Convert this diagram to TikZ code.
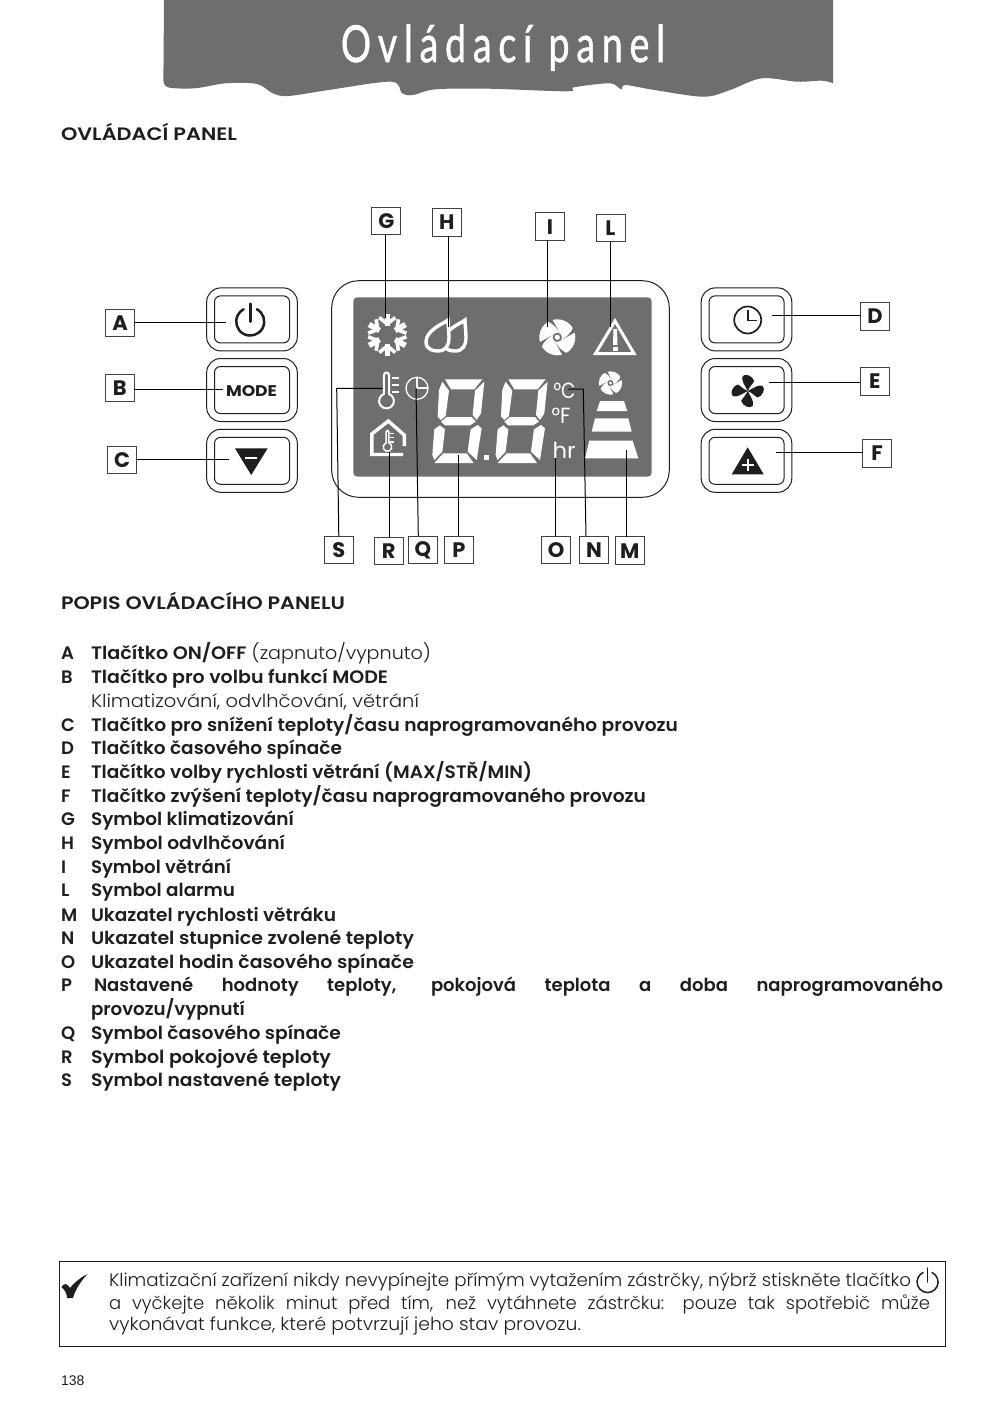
\documentclass[tikz,border=0pt]{standalone}
\usepackage{fontspec}
\setmainfont{Poppins}[UprightFont=* Light,BoldFont=* SemiBold]
\newfontfamily\titlefont{Lato}[LetterSpace=18,FakeBold=1.2]
\newfontfamily\numfont{Liberation Sans}
\newfontfamily\iconfont{Poppins}[UprightFont=* Bold]
\newfontfamily\lcdfont{Poppins}
\definecolor{panelgray}{HTML}{6E6E6E}
\definecolor{ink}{HTML}{1E1E1E}
\newcommand{\fitw}[2]{\resizebox{#1pt}{\height}{#2}}
\tikzset{
  every node/.style={inner sep=0pt,outer sep=0pt},
  lab/.style={draw=ink!85,line width=1pt,fill=white,minimum width=29pt,minimum height=27.5pt,font=\fontsize{21}{21}\iconfont,text=ink},
  conn/.style={draw=black,line width=1pt},
  btnout/.style={draw=ink,line width=1pt,rounded corners=14pt,minimum width=90.6pt,minimum height=63pt},
  btnin/.style={draw=ink,line width=1pt,rounded corners=6pt,minimum width=75pt,minimum height=47pt},
  row/.style={anchor=base west,yshift=1pt,font=\fontsize{18}{18}\selectfont,text=ink},
  lcdtxt/.style={text=white,anchor=base west,font=\fontsize{22}{22}\lcdfont},
  lcdfan/.pic={
    \fill[white] (0,0) circle (18);
    \foreach \r in {0,90,180,270}{
      \fill[panelgray,rotate=\r] (3,-3) .. controls (0,-9) and (-4,-14) .. (-11,-16.5) -- (-6,-19.5) .. controls (-3,-14) and (0,-9) .. (3,-3) -- cycle;
    }
    \fill[panelgray] (0,0) circle (4.6);
    \fill[white] (0,0) circle (2.6);
  },
  thermo/.pic={
    \draw[white,line width=2pt] (-2.5,-26) arc (180:360:2.5) -- (2.5,-7) arc (-70:250:7.4) -- cycle;
    \foreach \yy in {-23,-16,-9}{\draw[white,line width=2pt] (5,\yy) -- (12,\yy);}
  },
  segdigit/.pic={
    \fill[white] (60,28) -- (172,28) -- (148,58) -- (78,58) -- cycle;
    \fill[white] (52,35) -- (72,62) -- (62,138) -- (48,150) -- (38,140) -- (42,60) -- cycle;
    \fill[white] (178,35) -- (168,130) -- (155,150) -- (143,135) -- (150,62) -- cycle;
    \fill[white] (48,155) -- (65,141) -- (140,141) -- (152,155) -- (135,166) -- (60,166) -- cycle;
    \fill[white] (45,166) -- (60,178) -- (52,245) -- (28,270) -- (22,255) -- (28,178) -- cycle;
    \fill[white] (158,165) -- (170,175) -- (155,270) -- (128,245) -- (137,178) -- cycle;
    \fill[white] (28,279) -- (55,250) -- (125,250) -- (146,279) -- cycle;
  },
  powericon/.pic={
    \draw[ink,line width=2.5pt,line cap=round] (0,-18) -- (0,0);
    \draw[ink,line width=2.5pt,line cap=round] (6.5,-12.5) arc (-62:242:14);
  }
}
\begin{document}
\begin{tikzpicture}[x=1pt,y=-1pt]
\useasboundingbox (0,0) rectangle (1004,1417);
\fill[white] (0,0) rectangle (1004,1417);

% header
\fill[panelgray] (164,0) -- (163.4,80) -- plot[smooth,tension=.55] coordinates {(163.4,80) (167.9,87.3) (194.6,88.3) (225.9,83.3) (257,84) (272.8,93.3) (288.4,96) (328.6,90) (391,81.7) (402,93.3) (413,95) (435.7,89.3) (489,88.7) (567.4,91.3) (574,87.3) (609.8,83.3) (621,89.3) (625.4,85) (654.5,90) (703.6,96.7) (730,90) (761.6,78.3) (797,81.7) (822,80.7) (833,83.3)} -- (833,0) -- cycle;
\node[anchor=base west,text=white,font=\fontsize{51}{51}\titlefont] (title) at (341,62) {\fitw{324}{Ovládací panel}};

\node[row] (h1) at (61,141) {\fitw{176}{\bfseries OVLÁDACÍ PANEL}};
\node[row] (h2) at (61,610) {\fitw{284}{\bfseries POPIS OVLÁDACÍHO PANELU}};

% LCD panel
\node[draw=ink,line width=1pt,rounded corners=27pt,minimum width=337.6pt,minimum height=216.6pt] (panel) at (500.5,389) {};
\node[fill=panelgray,rounded corners=4pt,minimum width=298.4pt,minimum height=179.4pt] (lcd) at (502.5,387) {};

% buttons
\foreach \nm/\xx/\yy in {bA/252/319.4,bB/252/390,bC/252/460.8,bD/746.5/319.4,bE/746.5/390,bF/746.5/460.8}{
  \node[btnout] (\nm o) at (\xx,\yy) {};
  \node[btnin] (\nm) at (\xx,\yy) {};
}

% button icons
\pic at (250.3,321.7) {powericon};
\node[font=\fontsize{15}{15}\iconfont,text=ink] (modetxt) at (251.5,391.5) {\resizebox{51pt}{11pt}{MODE}};
\fill[ink] (235,448.3) -- (267.7,448.3) -- (251.2,475) -- cycle;
\draw[white,line width=1.6pt] (245,457.7) -- (256.7,457.7);
\draw[ink,line width=1.7pt] (747.7,320) circle (13.5);
\draw[ink,line width=1.7pt] (747.7,310) -- (747.7,320.5) -- (757,320.5);
\foreach \r in {0,90,180,270}{
  \fill[ink,shift={(747.7,391)},rotate=\r] (0,0) .. controls (-3,-6) and (-7,-11) .. (-5,-15) .. controls (-2,-18) and (5,-15) .. (6.5,-10) .. controls (6,-8) and (2,-5) .. (0,0) -- cycle;
}
\fill[ink] (747.7,447.3) -- (763.7,474.3) -- (731.7,474.3) -- cycle;
\draw[white,line width=1.8pt] (741.5,465) -- (754,465) (747.7,459) -- (747.7,471);

% LCD symbols: snowflake
\begin{scope}[shift={(387.3,335)}]
\foreach \r in {0,60,...,300}{
  \begin{scope}[rotate=\r]
  \draw[white,line width=5.5pt] (0,-9) -- (0,-21);
  \draw[white,line width=3.6pt] (0,-11) -- (-8,-17.5) (0,-11) -- (8,-17.5);
  \end{scope}
}
\end{scope}
% drops
\draw[white,line width=3.4pt,fill=panelgray,shift={(17,0)}] (448,320) .. controls (443,324) and (426,330) .. (426,342) .. controls (426,350) and (434,351) .. (438,351) .. controls (446,351) and (449,345) .. (449,338) .. controls (449,332) and (448,326) .. (448,320) -- cycle;
\draw[white,line width=3.4pt,fill=panelgray] (448,320) .. controls (443,324) and (426,330) .. (426,342) .. controls (426,350) and (434,351) .. (438,351) .. controls (446,351) and (449,345) .. (449,338) .. controls (449,332) and (448,326) .. (448,320) -- cycle;
% fan
\pic at (557.3,337.3) {lcdfan};
\pic[scale=.65] at (610.5,383) {lcdfan};
% alarm
\draw[white,line width=3pt,line join=miter] (615,321) -- (634,353.5) -- (595.5,353.5) -- cycle;
\fill[white] (613.5,329) -- (617,329) -- (617.5,345) -- (613,345) -- cycle;
\fill[white] (612.8,347) rectangle (617.6,351);
% thermometer
\pic at (386.5,401) {thermo};
% clock
\draw[white,line width=1.3pt] (417,388.3) circle (11);
\draw[white,line width=2pt] (417,377.5) -- (417,388.3) -- (428,388.3);
% house
\draw[white,line width=3.4pt,line join=miter] (404.3,446) -- (404.3,435) -- (388.3,421) -- (371.8,434) -- (371.8,454.5) -- (403,454.5);
\begin{scope}[shift={(387.5,447)},scale=.58]
\draw[white,line width=1.5pt] (-2.5,-26) arc (180:360:2.5) -- (2.5,-7) arc (-70:250:7.4) -- cycle;
\foreach \yy in {-23,-16,-9}{\draw[white,line width=1.5pt] (5,\yy) -- (12,\yy);}
\end{scope}
% digits
\pic[shift={(425,370)},scale=1/3] {segdigit};
\pic[shift={(488.3,370)},scale=1/3] {segdigit};
\fill[white] (484,455) rectangle (489,460);
\node[lcdtxt] (degC) at (553.5,398) {\fitw{22}{°C}};
\node[lcdtxt] (degF) at (551.5,423) {\fitw{19}{°F}};
\node[lcdtxt] (hrtxt) at (552.5,458) {\fitw{23}{hr}};
% speed bars
\fill[white] (600,401) -- (624,401) -- (627.3,411) -- (596.7,411) -- cycle;
\fill[white] (595,418.3) -- (628.3,418.3) -- (631.7,431.7) -- (591.7,431.7) -- cycle;
\fill[white] (589.3,440.7) -- (632.7,440.7) -- (638.3,458.3) -- (585,458.3) -- cycle;

% label boxes
\node[lab] (A) at (120,323) {A};
\node[lab] (B) at (119.8,388) {B};
\node[lab] (C) at (122,460) {C};
\node[lab] (D) at (875,316.3) {D};
\node[lab] (E) at (874.8,381.3) {E};
\node[lab] (F) at (877,453.3) {F};
\node[lab] (G) at (386.3,221) {G};
\node[lab] (H) at (446.8,222.5) {H};
\node[lab] (I) at (550,226.7) {I};
\node[lab] (L) at (610.5,228) {L};
\node[lab] (M) at (629.8,550.7) {M};
\node[lab] (N) at (594,549.8) {N};
\node[lab] (O) at (556,549.8) {O};
\node[lab] (P) at (458.8,549.8) {P};
\node[lab] (Q) at (422.8,549.8) {Q};
\node[lab] (R) at (388.8,551.2) {R};
\node[lab] (S) at (338.8,549.8) {S};

% connector ends
\coordinate (ea) at (226,322);
\coordinate (eb) at (222.7,389.3);
\coordinate (ec) at (229.3,459.7);
\coordinate (ed) at (771.7,315);
\coordinate (ee) at (769,382);
\coordinate (ef) at (776,452.7);
\coordinate (eg) at (385.7,318);
\coordinate (eh) at (448.3,326.7);
\coordinate (ei) at (547.7,326.7);
\coordinate (el) at (610,326.7);
\coordinate (em) at (626.7,450);
\coordinate (en) at (568.3,389);
\coordinate (kn) at (583.3,389);
\coordinate (eo) at (555.7,458.3);
\coordinate (ep) at (458.7,455);
\coordinate (eq) at (416,388);
\coordinate (er) at (389.7,451.7);
\coordinate (es) at (382.7,388.3);
\coordinate (ks) at (336.7,388.3);

\draw[conn] (A.east |- ea) -- (ea);
\draw[conn] (B.east |- eb) -- (eb);
\draw[conn] (C.east |- ec) -- (ec);
\draw[conn] (D.west |- ed) -- (ed);
\draw[conn] (E.west |- ee) -- (ee);
\draw[conn] (F.west |- ef) -- (ef);
\draw[conn] (eg |- G.south) -- (eg);
\draw[conn] (eh |- H.south) -- (eh);
\draw[conn] (ei |- I.south) -- (ei);
\draw[conn] (el |- L.south) -- (el);
\draw[conn] (em |- M.north) -- (em);
\draw[conn] ([xshift=-8pt]N.north) -- (kn) -- (en);
\draw[conn] (eo |- O.north) -- (eo);
\draw[conn] (ep |- P.north) -- (ep);
\draw[conn] ([xshift=-4.5pt]Q.north) -- (eq);
\draw[conn] (er |- R.north) -- (er);
\draw[conn] (S.north) -- (ks) -- (es);

% description list
\foreach \nm/\ltr/\yy in {a/A/660.5,b/B/684,c/C/732,d/D/755.5,e/E/779,f/F/803,g/G/826.5,h/H/850,i/I/874,l/L/897,m/M/922,n/N/945,o/O/969,p/P/992.5,q/Q/1040.5,r/R/1064,s/S/1087.5}{
  \node[row] (k\nm) at (61,\yy) {\bfseries\ltr};
}
\node[row] (ta) at (91,660.5) {\fitw{340}{\textbf{Tlačítko ON/OFF} (zapnuto/vypnuto)}};
\node[row] (tb) at (91,684) {\fitw{297}{\bfseries Tlačítko pro volbu funkcí MODE}};
\node[row] (tb2) at (91,708) {\fitw{328}{Klimatizování, odvlhčování, větrání}};
\node[row] (tc) at (91,732) {\fitw{587}{\bfseries Tlačítko pro snížení teploty/času naprogramovaného provozu}};
\node[row] (td) at (91,755.5) {\fitw{251}{\bfseries Tlačítko časového spínače}};
\node[row] (te) at (91,779) {\fitw{441}{\bfseries Tlačítko volby rychlosti větrání (MAX/STŘ/MIN)}};
\node[row] (tf) at (91,803) {\fitw{555}{\bfseries Tlačítko zvýšení teploty/času naprogramovaného provozu}};
\node[row] (tg) at (91,826.5) {\fitw{203}{\bfseries Symbol klimatizování}};
\node[row] (th) at (91,850) {\fitw{194}{\bfseries Symbol odvlhčování}};
\node[row] (ti) at (91,874) {\fitw{140}{\bfseries Symbol větrání}};
\node[row] (tl) at (91,897) {\fitw{144}{\bfseries Symbol alarmu}};
\node[row] (tm) at (91,922) {\fitw{245}{\bfseries Ukazatel rychlosti větráku}};
\node[row] (tn) at (91,945) {\fitw{323}{\bfseries Ukazatel stupnice zvolené teploty}};
\node[row] (to) at (91,969) {\fitw{323}{\bfseries Ukazatel hodin časového spínače}};
\node[row] (tp) at (94,992.5) {\makebox[849pt][s]{\bfseries Nastavené hodnoty teploty, pokojová teplota a doba naprogramovaného}};
\node[row] (tp2) at (91,1016.5) {\fitw{154}{\bfseries provozu/vypnutí}};
\node[row] (tq) at (91,1040.5) {\fitw{250}{\bfseries Symbol časového spínače}};
\node[row] (tr) at (91,1064) {\fitw{240}{\bfseries Symbol pokojové teploty}};
\node[row] (ts) at (91,1087.5) {\fitw{250}{\bfseries Symbol nastavené teploty}};

% note box
\node[draw=ink,line width=1pt,minimum width=886pt,minimum height=85pt,anchor=north west] (note) at (59,1261) {};
\fill[ink] (61.5,1287) .. controls (64,1283) and (67,1283) .. (70,1288) .. controls (74,1283) and (81,1277) .. (87.5,1274) .. controls (81,1281) and (75,1290) .. (73,1298) -- (67,1298) .. controls (67,1294) and (65,1290) .. (61.5,1287) -- cycle;
\node[row] (n1) at (109,1287) {\fitw{802}{Klimatizační zařízení nikdy nevypínejte přímým vytažením zástrčky, nýbrž stiskněte tlačítko}};
\node[row] (n2) at (109,1310) {\makebox[821pt][s]{a vyčkejte několik minut před tím, než vytáhnete zástrčku: pouze tak spotřebič může}};
\node[row] (n3) at (109,1331.5) {\fitw{472}{vykonávat funkce, které potvrzují jeho stav provozu.}};
\draw[ink,line width=1.5pt,line cap=round] (927.5,1268) -- (927.5,1282);
\draw[ink,line width=1.5pt,line cap=round] (932,1272.5) arc (-65:245:10.5 and 10.5);
\node[anchor=base west,font=\fontsize{14}{14}\numfont,text=ink] (pg) at (61,1385) {138};
\end{tikzpicture}
\end{document}
